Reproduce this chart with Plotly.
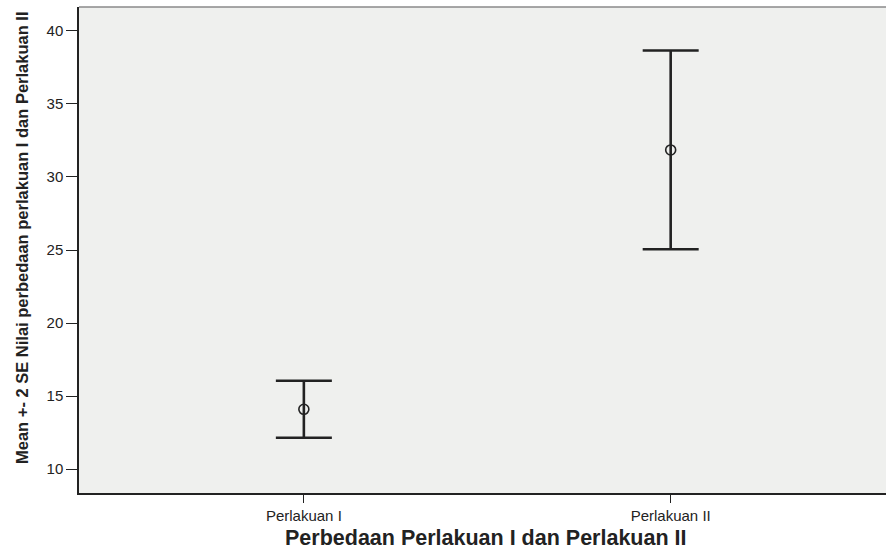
import plotly.graph_objects as go

categories = ["Perlakuan I", "Perlakuan II"]
means = [14.09, 31.85]
upper = [16.05, 38.66]
lower = [12.14, 25.05]

err_plus = [u - m for u, m in zip(upper, means)]
err_minus = [m - l for m, l in zip(means, lower)]

fig = go.Figure()
fig.add_trace(go.Scatter(
    x=[0, 1], y=means, mode="markers",
    marker=dict(symbol="circle-open", size=10, color="#222222", line=dict(width=1.6, color="#222222")),
    error_y=dict(type="data", symmetric=False, array=err_plus, arrayminus=err_minus,
                 color="#222222", thickness=2.6, width=28),
    showlegend=False, hoverinfo="skip",
))

W, H = 886, 553
L, R, T, B = 79, 0, 7, 60
fig.update_layout(
    width=W, height=H,
    margin=dict(l=L, r=R, t=T, b=B),
    paper_bgcolor="white", plot_bgcolor="#eff0ee",
    font=dict(family="Liberation Sans, Arial, sans-serif", color="#222222"),
    xaxis=dict(
        range=[-0.613, 1.587], tickmode="array", tickvals=[0, 1], ticktext=categories,
        ticks="outside", ticklen=8, tickwidth=1.2, tickcolor="#222222",
        showgrid=False, zeroline=False, showline=True, linecolor="#222222", linewidth=1.5,
        tickfont=dict(size=15, color="#222222"),
    ),
    yaxis=dict(
        range=[8.36, 41.64], tickmode="array", tickvals=[10, 15, 20, 25, 30, 35, 40],
        ticks="outside", ticklen=11, tickwidth=1.2, tickcolor="#222222",
        showgrid=False, zeroline=False, showline=True, linecolor="#222222", linewidth=1.5,
        tickfont=dict(size=15, color="#222222"),
    ),
    annotations=[
        dict(text="<b>Perbedaan Perlakuan I dan Perlakuan II</b>", xref="paper", yref="paper",
             x=(486 - L) / (W - L - R), y=-(538 - (H - B)) / (H - T - B), xanchor="center", yanchor="middle",
             showarrow=False, font=dict(size=21.5, color="#222222")),
        dict(text="<b>Mean +- 2 SE Nilai perbedaan perlakuan I dan Perlakuan II</b>", xref="paper", yref="paper",
             x=(22 - L) / (W - L - R), y=((H - B) - 238) / (H - T - B), xanchor="center", yanchor="middle",
             textangle=-90, showarrow=False,
             font=dict(size=16.5, color="#222222")),
    ],
    shapes=[
        dict(type="line", xref="paper", yref="paper", x0=0, x1=1, y0=1, y1=1,
             line=dict(color="#8a8a8a", width=1.5)),
    ],
)

fig.write_html("out.html", post_script="document.body.style.margin='0';",
               config={"displayModeBar": False})
